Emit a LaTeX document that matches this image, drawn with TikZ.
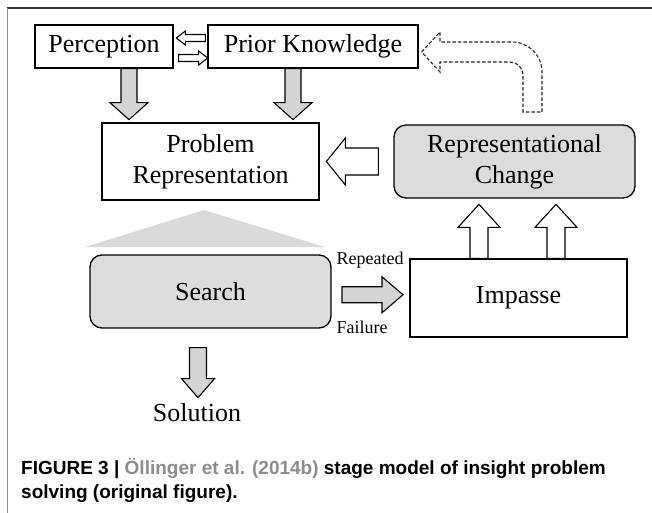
\documentclass[tikz,border=0pt]{standalone}
\usepackage{fontspec}
\setmainfont{Liberation Serif}
\newfontfamily\capfont{Liberation Sans}
\usetikzlibrary{calc}
\definecolor{boxgray}{HTML}{DCDCDC}
\definecolor{arrgray}{HTML}{D4D4D4}
\definecolor{trigray}{HTML}{DADADA}
\definecolor{citegray}{HTML}{8C8C8C}
\tikzset{
  pics/barrow/.style n args={4}{code={
    \draw[pic actions] (0,-#2) -- (#1-#4,-#2) -- (#1-#4,-#3) -- (#1,0)
      -- (#1-#4,#3) -- (#1-#4,#2) -- (0,#2) -- cycle;}}
}

\begin{document}
\begin{tikzpicture}[x=1pt,y=-1pt,font=\fontsize{26}{31}\selectfont]
\useasboundingbox (0,0) rectangle (652,513);
\tikzstyle{box}=[rectangle, draw, line width=1.3pt, inner sep=0pt, align=center]
\tikzstyle{grbox}=[box, rounded corners=12pt, fill=boxgray]
\tikzstyle{blk}=[draw, line width=1.1pt]

% frame of the page
\draw[line width=2pt, black!80] (7,8) -- (652,8);
\draw[line width=1.2pt, black!45] (7.5,8) -- (7.5,513);

\node[box, minimum width=138pt, minimum height=43pt] (perc) at (104,46.5) {Perception};
\node[box, minimum width=210pt, minimum height=43pt] (prior) at (313,46.5) {Prior Knowledge};
\node[box, minimum width=217pt, minimum height=77pt] (prob) at (210.5,161.5) {Problem\\Representation};
\node[grbox, minimum width=241pt, minimum height=73pt] (repch) at (514.5,161.5) {Representational\\Change};
\node[grbox, minimum width=241pt, minimum height=73pt] (search) at (210.5,291.5) {Search};
\node[box, minimum width=217pt, minimum height=78pt] (imp) at (518.5,298) {Impasse};
\node (sol) at (197,413) {Solution};

\node[font=\fontsize{18}{20}\selectfont] (rep) at (370,260) {Repeated};
\node[font=\fontsize{18}{20}\selectfont] (fail) at (362,327) {Failure};

% triangle under the problem representation
\fill[trigray] (204,210) -- (85,247) -- (325,247) -- cycle;

% small arrows between perception and knowledge
\pic[blk, fill=white, rotate=180] (pk1) at ([xshift=-2pt,yshift=8.5pt]prior.west) {barrow={29}{3.5}{7}{9}};
\pic[blk, fill=white] (pk2) at ([xshift=5pt,yshift=-11.5pt]perc.east) {barrow={29}{3.5}{7}{9}};

% gray arrows down
\pic[blk, fill=arrgray, rotate=-90] (pa) at ([xshift=25pt]perc.south) {barrow={51}{8}{19}{17}};
\pic[blk, fill=arrgray, rotate=-90] (pb) at ([xshift=-20pt]prior.south) {barrow={51}{8}{19}{17}};
\pic[blk, fill=arrgray, rotate=-90] (ps) at ([xshift=-12.5pt,yshift=-19pt]search.south) {barrow={50}{8.5}{16.5}{19}};

% hollow arrows
\pic[blk, fill=white, rotate=180] (pr) at ([xshift=-15pt]repch.west) {barrow={52}{13.5}{23.5}{19}};
\pic[blk, fill=white, rotate=90] (pu1) at ([xshift=-39.5pt]imp.north) {barrow={54}{9}{21}{23}};
\pic[blk, fill=white, rotate=90] (pu2) at ([xshift=37.5pt]imp.north) {barrow={54}{9}{21}{23}};

% repeated failure
\pic[blk, fill=arrgray] (pf) at ([xshift=-28.5pt]$(search.east)!.5!(imp.west)$) {barrow={61}{8}{18}{21}};

% dashed way back to knowledge
\coordinate (dtip) at ([xshift=3pt,yshift=-5.5pt]prior.east);
\draw[line width=1.1pt, black!85, dash pattern=on 3.5pt off 2pt] (dtip) -- (440,32) -- (440,42) -- (512,42)
  .. controls (528.6,42) and (542,55.4) .. (542,72) -- (542,112) -- (523,112) -- (523,75)
  .. controls (523,67.8) and (517.2,62) .. (510,62) -- (440,62) -- (440,72) -- cycle;

% caption
\node[anchor=base west, inner sep=0pt, font=\capfont\bfseries\fontsize{19}{22}\selectfont] (cap1) at (21,474)
  {FIGURE 3 | \textcolor{citegray}{Öllinger et al. (2014b)} stage model of insight problem};
\node[anchor=base west, inner sep=0pt, font=\capfont\bfseries\fontsize{19}{22}\selectfont] (cap2) at (21,498)
  {solving (original figure).};
\end{tikzpicture}
\end{document}
